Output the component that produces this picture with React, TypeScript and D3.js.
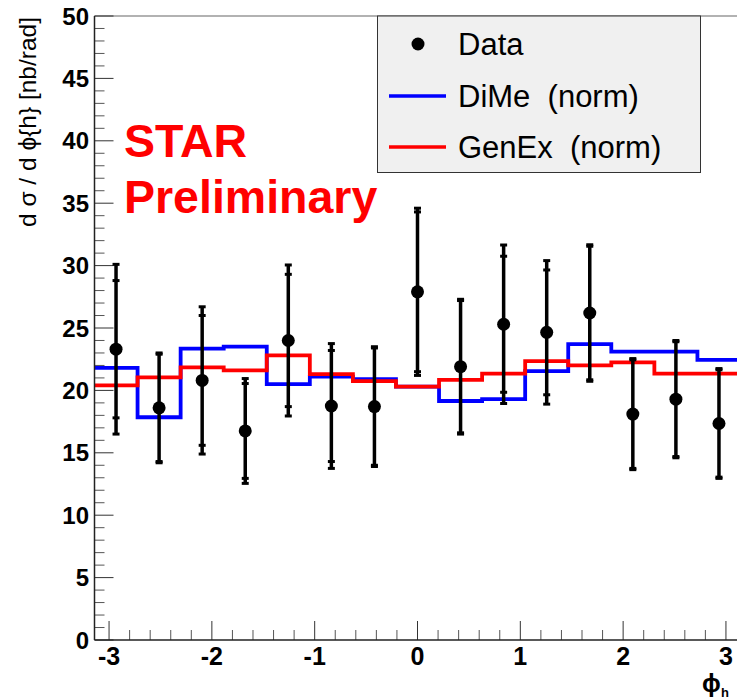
import * as d3 from 'd3';

// bin centres are -pi + (i + 0.5) * 2pi/15
const nBins = 15;
const dataVals = [23.3, 18.6, 20.8, 16.75, 24.0, 18.75, 18.7, 27.9, 21.9, 25.3, 24.65, 26.2, 18.1, 19.3, 17.35];
const statErr = [5.5, 4.3, 5.2, 3.8, 5.3, 4.45, 4.7, 6.4, 5.3, 5.45, 5.0, 5.35, 4.35, 4.6, 4.3];
const totErr = [6.8, 4.4, 5.9, 4.2, 6.05, 5.0, 4.8, 6.7, 5.4, 6.35, 5.75, 5.47, 4.45, 4.7, 4.4];
const dimeVals = [21.8, 17.85, 23.35, 23.5, 20.5, 21.1, 20.9, 20.3, 19.15, 19.3, 21.55, 23.7, 23.1, 23.1, 22.45];
const genexVals = [20.4, 21.05, 21.85, 21.6, 22.8, 21.3, 20.75, 20.3, 20.85, 21.35, 22.35, 22.0, 22.25, 21.35, 21.35];

const yMajorTicks = [0, 5, 10, 15, 20, 25, 30, 35, 40, 45, 50];
const xMajorTicks = [-3, -2, -1, 0, 1, 2, 3];

const legendItems = ['Data', 'DiMe  (norm)', 'GenEx  (norm)'];

const W = 737;
const H = 700;
const frame = { left: 94.5, right: 740.5, top: 16, bottom: 640 };

export default function App() {
  const x = d3.scaleLinear().domain([-Math.PI, Math.PI]).range([frame.left, frame.right]);
  const y = d3.scaleLinear().domain([0, 50]).range([frame.bottom, frame.top]);

  const binW = (2 * Math.PI) / nBins;
  const edges = d3.range(nBins + 1).map(i => -Math.PI + i * binW);
  const centres = d3.range(nBins).map(i => -Math.PI + (i + 0.5) * binW);

  const step = d3
    .line<[number, number]>()
    .x(d => x(d[0]))
    .y(d => y(d[1]))
    .curve(d3.curveStepAfter);

  const histPath = (vals: number[]) =>
    step(edges.map((e, i) => [e, vals[Math.min(i, vals.length - 1)]] as [number, number])) || '';

  const yMinor = d3.range(0, 51, 1).filter(v => v % 5 !== 0);
  const xMinor = d3.range(-30, 31, 2).map(v => v / 10).filter(v => Math.abs(v - Math.round(v)) > 1e-6);

  const font = 'Liberation Sans, Arial, Helvetica, sans-serif';

  return (
    <svg
      width={W}
      height={H}
      style={{ position: 'absolute', left: 0, top: 0, background: '#fff' }}
      fontFamily={font}
    >
      {/* frame */}
      <line x1={frame.left} x2={W} y1={frame.top} y2={frame.top} stroke="#666" strokeWidth={1.2} />

      {/* y ticks */}
      {yMajorTicks.map(v => (
        <g key={'ym' + v}>
          <line x1={frame.left} x2={frame.left + 19} y1={y(v)} y2={y(v)} stroke="#333" strokeWidth={1} />
          <text x={89} y={y(v)} dy="0.36em" textAnchor="end" fontSize={24} fontWeight="bold">
            {v}
          </text>
        </g>
      ))}
      {yMinor.map(v => (
        <line key={'yn' + v} x1={frame.left} x2={frame.left + 10} y1={y(v)} y2={y(v)} stroke="#555" strokeWidth={1} />
      ))}

      {/* x ticks */}
      {xMajorTicks.map(v => (
        <g key={'xm' + v}>
          <line x1={x(v)} x2={x(v)} y1={frame.bottom} y2={frame.bottom - 19} stroke="#333" strokeWidth={1} />
          <text x={x(v)} y={665} textAnchor="middle" fontSize={25} fontWeight="bold">
            {v}
          </text>
        </g>
      ))}
      {xMinor.map(v => (
        <line key={'xn' + v} x1={x(v)} x2={x(v)} y1={frame.bottom} y2={frame.bottom - 10} stroke="#555" strokeWidth={1} />
      ))}

      {/* histograms */}
      <path d={histPath(dimeVals)} fill="none" stroke="#0000ff" strokeWidth={3.8} />
      <path d={histPath(genexVals)} fill="none" stroke="#ff0000" strokeWidth={3.8} />

      {/* data points with stat and total errors */}
      {centres.map((c, i) => {
        const cx = x(c);
        const v = dataVals[i];
        return (
          <g key={'pt' + i}>
            <line x1={cx} x2={cx} y1={y(v + totErr[i])} y2={y(v - totErr[i])} stroke="#000" strokeWidth={3.5} />
            {[v + totErr[i], v - totErr[i], v + statErr[i], v - statErr[i]].map((e, k) => (
              <line key={k} x1={cx - 3.5} x2={cx + 3.5} y1={y(e)} y2={y(e)} stroke="#000" strokeWidth={3} />
            ))}
            <circle cx={cx} cy={y(v)} r={6.5} fill="#000" />
          </g>
        );
      })}

      {/* axes */}
      <line x1={frame.left} x2={frame.left} y1={frame.top} y2={frame.bottom} stroke="#222" strokeWidth={1.5} />
      <line x1={frame.left} x2={W} y1={frame.bottom} y2={frame.bottom} stroke="#222" strokeWidth={1.5} />

      {/* axis titles */}
      <text
        transform="translate(36,122) rotate(-90)"
        textAnchor="middle"
        fontSize={24.5}
      >
        d σ / d ϕ{'{h}'} [nb/rad]
      </text>
      <text x={702} y={692} fontSize={25} fontWeight="bold">
        ϕ
      </text>
      <text x={721} y={697} fontSize={13} fontWeight="bold">
        h
      </text>

      {/* STAR Preliminary */}
      <text x={124} y={157} fontSize={46.5} fontWeight="bold" fill="#ff0000">
        STAR
      </text>
      <text x={124} y={213} fontSize={46.5} fontWeight="bold" fill="#ff0000">
        Preliminary
      </text>

      {/* legend */}
      <rect x={377.5} y={16} width={323} height={156.5} fill="#f0f0f0" stroke="#333" strokeWidth={1} />
      {legendItems.map((t, i) => {
        const cy = [44, 96, 147][i];
        return (
          <g key={t}>
            {i === 0 ? (
              <circle cx={418} cy={cy} r={6.5} fill="#000" />
            ) : (
              <line x1={389} x2={446} y1={cy} y2={cy} stroke={i === 1 ? '#0000ff' : '#ff0000'} strokeWidth={3.5} />
            )}
            <text x={458} y={cy} dy="0.36em" fontSize={31} style={{ whiteSpace: 'pre' }}>
              {t}
            </text>
          </g>
        );
      })}
    </svg>
  );
}
